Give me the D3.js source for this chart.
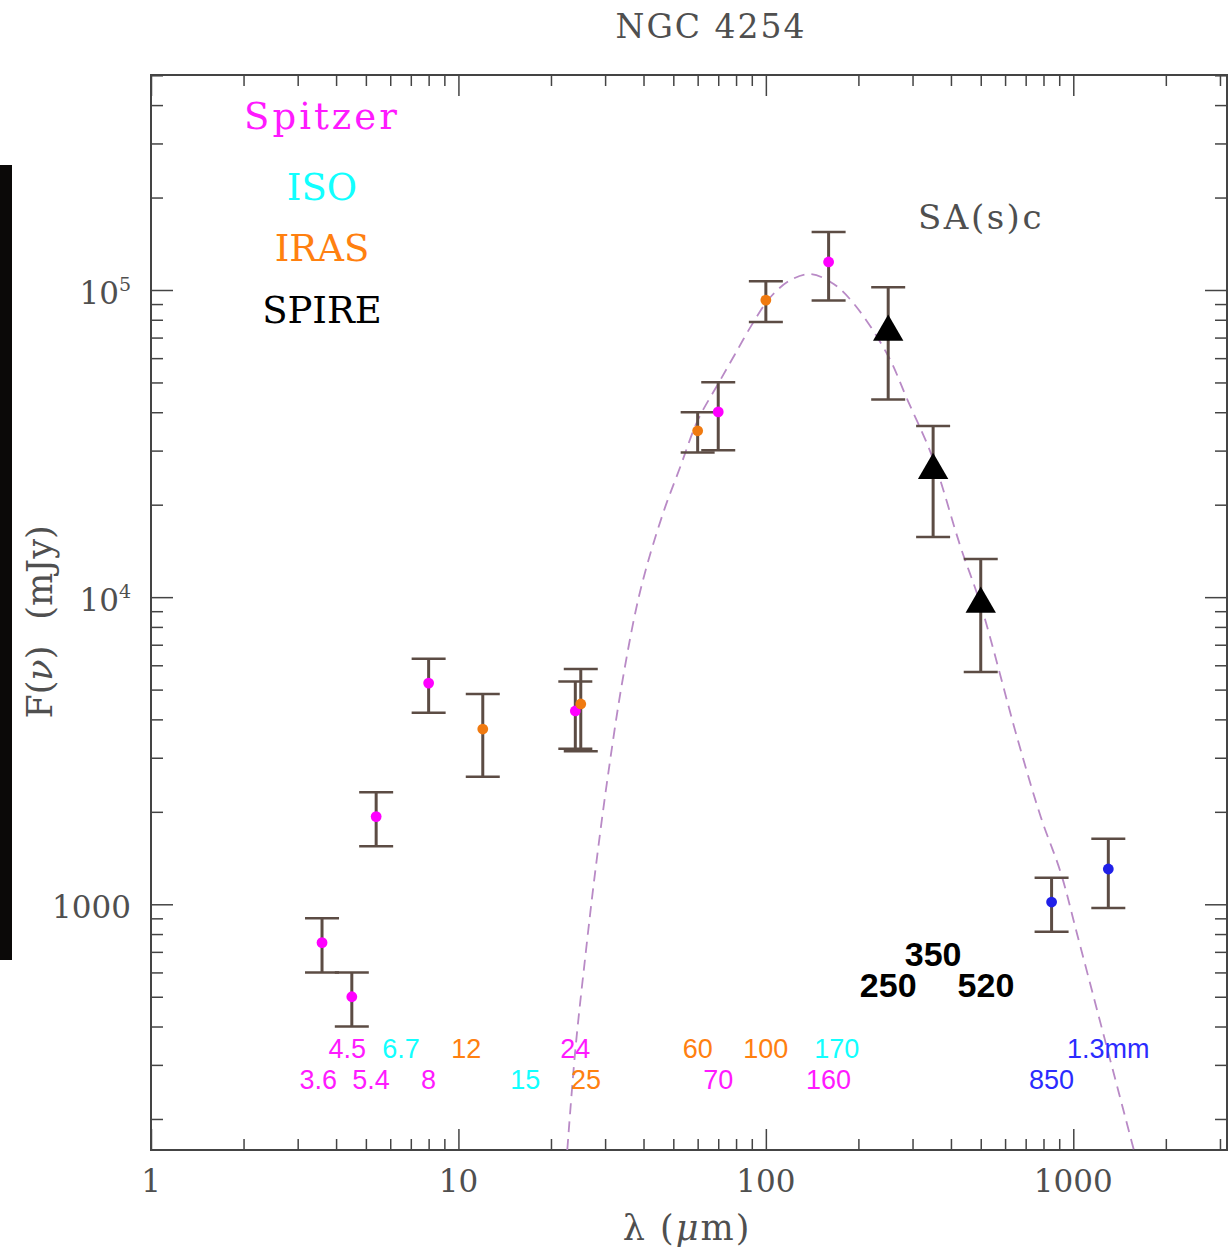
<!DOCTYPE html>
<meta charset="utf-8">
<style>
body { margin: 0; background: #fff; }
.frame { fill: none; stroke: #444; stroke-width: 2px; }
.tick line { stroke: #444; stroke-width: 1.5px; }
.domain { display: none; }
.hersh { font-family: "DejaVu Serif", serif; fill: #4f4f4f; }
.band { font-family: "Liberation Sans", Arial, sans-serif; font-size: 27px; text-anchor: middle; }
</style>
<svg id="chart" width="1231" height="1252"></svg>
<script src="https://cdn.jsdelivr.net/npm/d3@7"></script>
<script>

// photometry (wavelength in micron, flux in mJy)
var wavelength = [3.6, 4.5, 5.4, 8, 12, 24, 25, 60, 70, 100, 160, 250, 350, 500, 850, 1300];
var flux       = [750, 500, 1930, 5250, 3720, 4260, 4490, 34800, 40100, 92700, 123400, 73000, 25900, 9500, 1017, 1303];
var fluxErr    = [150, 100, 385, 1050, 1120, 1050, 1340, 5200, 10000, 14000, 31000, 29000, 10200, 3800, 203, 330];
var instrument = ["Spitzer", "Spitzer", "Spitzer", "Spitzer", "IRAS", "Spitzer", "IRAS", "IRAS", "Spitzer",
                  "IRAS", "Spitzer", "SPIRE", "SPIRE", "SPIRE", "submm", "submm"];

// dashed model curve
var modelWave = [22.6, 24.0, 25.9, 27.9, 30.5, 34.2, 39.1, 46.1, 52.8, 59.9, 70.2, 79.1, 91.2,
                 103.6, 120.4, 139.8, 166.2, 196, 249, 289, 349, 430, 500, 660, 784, 911, 1035, 1574];
var modelFlux  = [158.5, 335, 684, 1293, 2538, 5374, 10550, 18510, 26730, 37450, 49800, 61430, 78680,
                  94890, 107800, 112700, 104600, 88700, 61430, 43830, 28380, 14560, 9428, 3427, 1924, 1264, 782, 158.5];

// band labels along the bottom
var bandText  = ["4.5", "6.7", "12", "24", "60", "100", "170", "1.3mm",
                 "3.6", "5.4", "8", "15", "25", "70", "160", "850"];
var bandWave  = [4.35, 6.5, 10.6, 24, 60, 100, 170, 1300,
                 3.5, 5.2, 8, 16.5, 26, 70, 160, 850];
var bandRow   = [0, 0, 0, 0, 0, 0, 0, 0, 1, 1, 1, 1, 1, 1, 1, 1];
var bandInst  = ["Spitzer", "ISO", "IRAS", "Spitzer", "IRAS", "IRAS", "ISO", "submm",
                 "Spitzer", "Spitzer", "Spitzer", "ISO", "IRAS", "Spitzer", "Spitzer", "submm"];

var spireText = ["350", "250", "520"];
var spireWave = [350, 250, 520];
var spireRow  = [0, 1, 1];

var legendNames = ["Spitzer", "ISO", "IRAS", "SPIRE"];

var textColor = { Spitzer: "#ff1aff", ISO: "#11ffff", IRAS: "#ff8010", SPIRE: "#000", submm: "#2b2bff" };
var dotColor  = { Spitzer: "#ff00ff", IRAS: "#f07a10", submm: "#2020e8" };

var svg = d3.select("#chart");

var x = d3.scaleLog().domain([1, Math.pow(10, 3.5)]).range([151, 1227]);
var y = d3.scaleLog().domain([Math.pow(10, 2.2), Math.pow(10, 5.7)]).range([1150, 75]);

// dark strip on the left edge of the original scan
svg.append("rect").attr("x", 0).attr("y", 165).attr("width", 12).attr("height", 795).attr("fill", "#0b0908");

function minors(lo, hi) {
  var out = [];
  for (var d = -1; d <= 6; d++)
    for (var k = 2; k <= 9; k++) {
      var v = k * Math.pow(10, d);
      if (v > lo && v < hi) out.push(v);
    }
  return out;
}
var xMaj = [1, 10, 100, 1000], xMin = minors(1, Math.pow(10, 3.5));
var yMaj = [1000, 10000, 100000], yMin = minors(Math.pow(10, 2.2), Math.pow(10, 5.7));

function addAxis(gen, tr, vals, size) {
  svg.append("g").attr("transform", tr)
    .call(gen.tickValues(vals).tickSize(-size).tickFormat(""));
}
addAxis(d3.axisBottom(x), "translate(0,1150)", xMin, 11);
addAxis(d3.axisBottom(x), "translate(0,1150)", xMaj, 21);
addAxis(d3.axisTop(x), "translate(0,75)", xMin, 11);
addAxis(d3.axisTop(x), "translate(0,75)", xMaj, 21);
addAxis(d3.axisLeft(y), "translate(151,0)", yMin, 12);
addAxis(d3.axisLeft(y), "translate(151,0)", yMaj, 22);
addAxis(d3.axisRight(y), "translate(1227,0)", yMin, 12);
addAxis(d3.axisRight(y), "translate(1227,0)", yMaj, 22);

svg.append("rect").attr("class", "frame")
  .attr("x", 151).attr("y", 75).attr("width", 1227 - 151).attr("height", 1150 - 75);

// tick labels
svg.selectAll(".xlab").data(xMaj).enter().append("text")
  .attr("class", "hersh")
  .attr("x", function(d) { return x(d); }).attr("y", 1192)
  .attr("text-anchor", "middle").style("font-size", "31px")
  .text(function(d) { return d; });

var yl = svg.selectAll(".ylab").data(yMaj).enter().append("text")
  .attr("class", "hersh")
  .attr("x", 131).attr("y", function(d) { return y(d) + 14; })
  .attr("text-anchor", "end").style("font-size", "31px");
yl.each(function(d) {
  var t = d3.select(this);
  if (d === 1000) { t.text("1000"); return; }
  t.append("tspan").text("10");
  t.append("tspan").attr("dy", -13).style("font-size", "19px").text(Math.round(Math.log10(d)));
});

// axis titles
var xt = svg.append("text").attr("class", "hersh").attr("x", 687).attr("y", 1240)
  .attr("text-anchor", "middle").style("font-size", "35px").style("letter-spacing", "2px");
xt.append("tspan").text("λ (");
xt.append("tspan").style("font-style", "italic").text("μ");
xt.append("tspan").text("m)");

var yt = svg.append("text").attr("class", "hersh")
  .attr("transform", "translate(52,622) rotate(-90)")
  .attr("text-anchor", "middle").style("font-size", "35px");
yt.append("tspan").text("F(");
yt.append("tspan").style("font-style", "italic").text("ν");
yt.append("tspan").text(")");
yt.append("tspan").attr("dx", 26).text("(mJy)");

svg.append("text").attr("class", "hersh").attr("x", 711).attr("y", 38)
  .attr("text-anchor", "middle").style("font-size", "33px").style("letter-spacing", "2px")
  .text("NGC 4254");
svg.append("text").attr("class", "hersh").attr("x", 981).attr("y", 229)
  .attr("text-anchor", "middle").style("font-size", "34px").style("letter-spacing", "2.5px")
  .text("SA(s)c");

// legend
svg.selectAll(".leg").data(legendNames).enter().append("text")
  .attr("x", 322).attr("y", function(d, i) { return [129, 200, 261, 323][i]; })
  .attr("text-anchor", "middle")
  .style("font-family", "'DejaVu Serif', serif").style("font-size", "37px")
  .style("letter-spacing", function(d) { return d === "Spitzer" ? "3px" : "0px"; })
  .attr("fill", function(d) { return textColor[d]; })
  .text(function(d) { return d; });

// model curve
var clip = svg.append("clipPath").attr("id", "plotclip");
clip.append("rect").attr("x", 151).attr("y", 75).attr("width", 1076).attr("height", 1075);

var line = d3.line()
  .x(function(d, i) { return x(modelWave[i]); })
  .y(function(d, i) { return y(modelFlux[i]); })
  .curve(d3.curveCatmullRom);

svg.append("path").attr("clip-path", "url(#plotclip)")
  .attr("d", line(modelWave))
  .attr("fill", "none").attr("stroke", "#b98ac6")
  .attr("stroke-width", 1.8).attr("stroke-dasharray", "11,7");

// error bars
var pts = wavelength.map(function(w, i) {
  return { w: w, f: flux[i], e: fluxErr[i], inst: instrument[i] };
});
var eb = svg.append("g").attr("stroke", "#5c4c44");
eb.selectAll(".ev").data(pts).enter().append("line")
  .attr("x1", function(d) { return x(d.w); }).attr("x2", function(d) { return x(d.w); })
  .attr("y1", function(d) { return y(d.f + d.e); }).attr("y2", function(d) { return y(d.f - d.e); })
  .attr("stroke-width", 3);
[1, -1].forEach(function(s) {
  eb.selectAll(".cap" + s).data(pts).enter().append("line")
    .attr("x1", function(d) { return x(d.w) - 17; }).attr("x2", function(d) { return x(d.w) + 17; })
    .attr("y1", function(d) { return y(d.f + s * d.e); }).attr("y2", function(d) { return y(d.f + s * d.e); })
    .attr("stroke-width", 2.5);
});

// points
svg.selectAll(".dot").data(pts.filter(function(d) { return d.inst !== "SPIRE"; }))
  .enter().append("circle")
  .attr("cx", function(d) { return x(d.w); }).attr("cy", function(d) { return y(d.f); })
  .attr("r", 5.4).attr("fill", function(d) { return dotColor[d.inst]; });

svg.selectAll(".tri").data(pts.filter(function(d) { return d.inst === "SPIRE"; }))
  .enter().append("path")
  .attr("d", d3.symbol().type(d3.symbolTriangle).size(400))
  .attr("transform", function(d) { return "translate(" + x(d.w) + "," + y(d.f) + ")"; })
  .attr("fill", "#000");

// band labels
svg.selectAll(".bl").data(bandText).enter().append("text")
  .attr("class", "band")
  .attr("x", function(d, i) { return x(bandWave[i]); })
  .attr("y", function(d, i) { return bandRow[i] ? 1089 : 1058; })
  .attr("fill", function(d, i) { return textColor[bandInst[i]]; })
  .text(function(d) { return d; });

svg.selectAll(".sl").data(spireText).enter().append("text")
  .attr("x", function(d, i) { return x(spireWave[i]); })
  .attr("y", function(d, i) { return spireRow[i] ? 997 : 966; })
  .attr("text-anchor", "middle")
  .style("font-family", "'Liberation Sans', Arial, sans-serif")
  .style("font-size", "34px").style("font-weight", "bold")
  .attr("fill", "#000")
  .text(function(d) { return d; });

</script>
